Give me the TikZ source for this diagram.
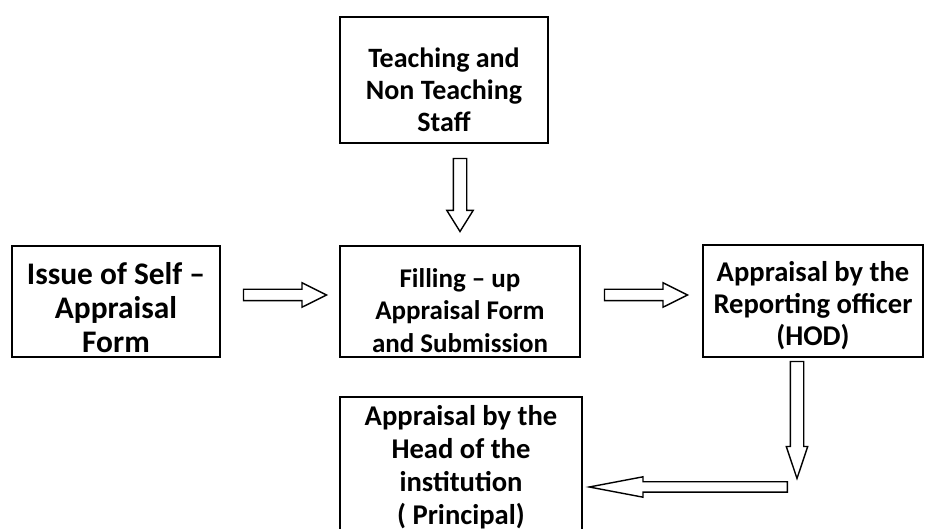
\documentclass[tikz,border=0pt]{standalone}
\usepackage{fontspec}
\setmainfont{Carlito}
\usetikzlibrary{shapes.arrows}
\tikzset{
  stepbox/.style={draw, line width=0.8pt, align=center, inner sep=0pt},
  hollow/.style={single arrow, draw, line width=0.7pt, inner xsep=0pt, inner ysep=2.5pt, sloped,
    allow upside down, pos=0, anchor=tail, single arrow head indent=0pt, single arrow tip angle=53,
    single arrow head extend=3.25pt, minimum height=41.5pt},
}
\begin{document}
\begin{tikzpicture}[x=0.5pt, y=-0.5pt]
  \useasboundingbox (0,0) rectangle (928,529);
  \node[stepbox, minimum width=104pt, minimum height=63pt, font=\bfseries\fontsize{14}{16}\selectfont] (staff) at (444,80) {\rule{0pt}{19.8pt}Teaching and\\Non Teaching\\Staff};
  \node[stepbox, minimum width=104pt, minimum height=55.5pt, font=\bfseries\fontsize{15.7}{17}\selectfont] (issue) at (116,301.5) {\rule{0pt}{17pt}Issue of Self --\\Appraisal\\Form};
  \node[stepbox, minimum width=120pt, minimum height=55.5pt, font=\bfseries\fontsize{13.5}{16.25}\selectfont] (filling) at (460,301.5) {\rule{0pt}{18.5pt}Filling -- up\\Appraisal Form\\and Submission};
  \node[stepbox, minimum width=110pt, minimum height=56pt, font=\bfseries\fontsize{14.3}{16}\selectfont] (hod) at (813,301) {\rule{0pt}{15pt}Appraisal by the\\Reporting officer\\(HOD)};
  \node[stepbox, minimum width=121pt, minimum height=68.5pt, font=\bfseries\fontsize{14.3}{16.5}\selectfont] (head) at (461,465.5) {\rule{0pt}{12pt}Appraisal by the\\Head of the\\institution\\( Principal)};
  \coordinate (turn) at (797,487);
  % hollow block arrows
  \path (filling.north |- staff.south) ++(0,14) -- node[hollow, minimum height=36.5pt, inner ysep=3pt, single arrow tip angle=64] {} (filling.north);
  \path (issue.east) ++(22,-6.5) -- node[hollow] {} ([yshift=3.25pt]filling.west);
  \path (filling.east) ++(23,-6.5) -- node[hollow] {} ([yshift=3pt]hod.west);
  \path (turn |- hod.south) ++(0,3) -- node[hollow, minimum height=58.5pt, inner ysep=3pt, single arrow head extend=2pt, single arrow tip angle=37] {} (turn);
  \path (turn) ++(-9,0) -- node[hollow, minimum height=99pt, inner ysep=2.25pt, single arrow head extend=2.5pt, single arrow tip angle=21.5] {} (head.east |- turn);
\end{tikzpicture}
\end{document}
